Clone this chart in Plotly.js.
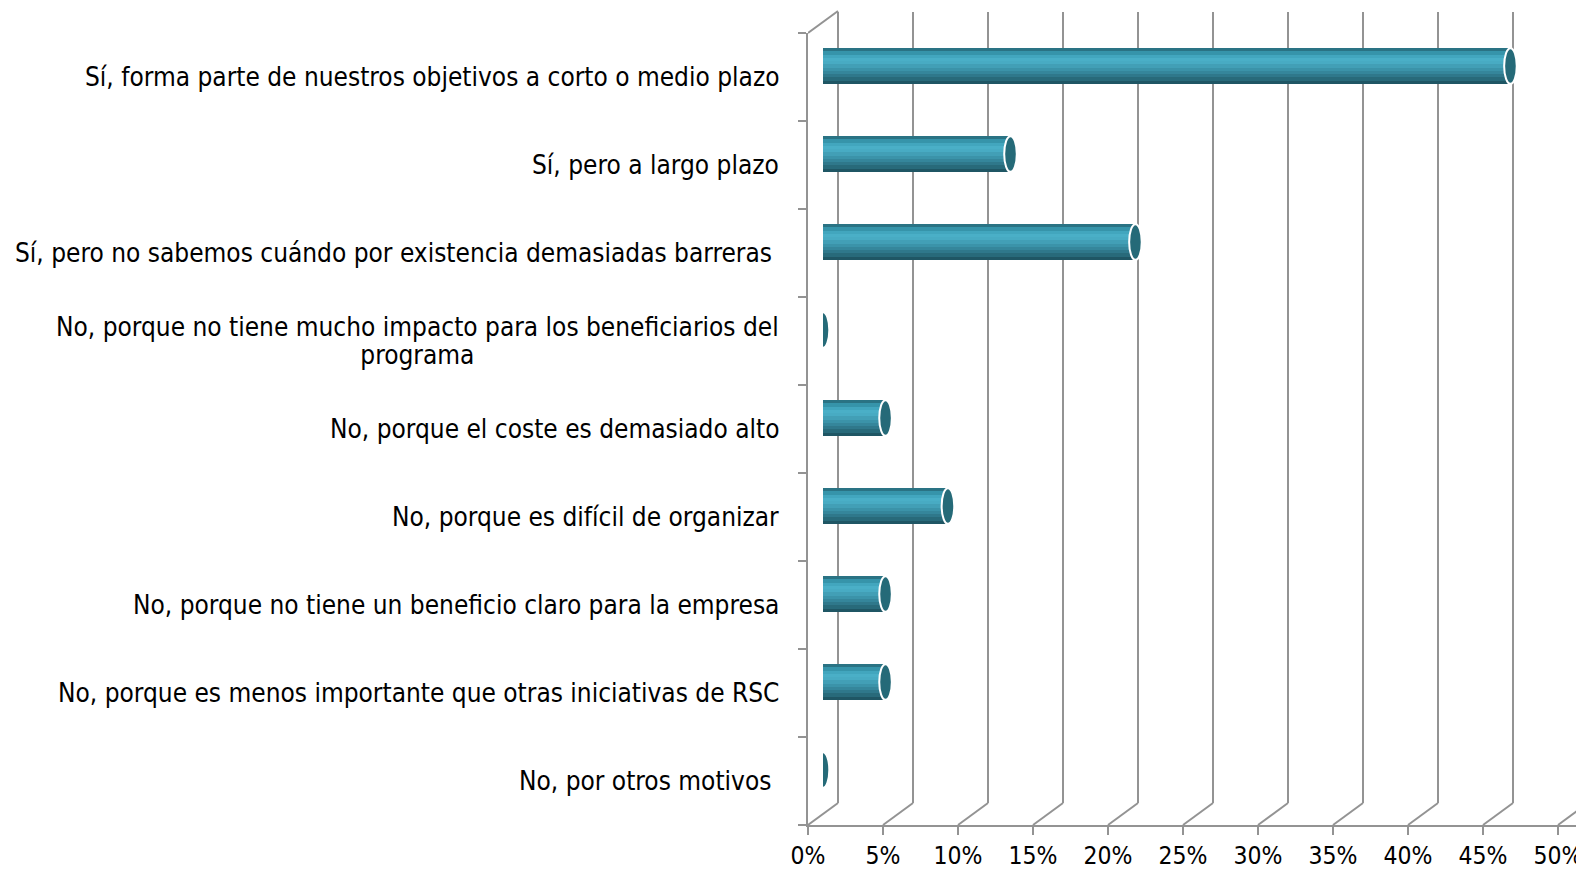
<!DOCTYPE html>
<html>
<head>
<meta charset="utf-8">
<script src="https://cdn.plot.ly/plotly-3.0.1.min.js"></script>
<style>
  html, body { margin: 0; padding: 0; background: #ffffff; }
  #chart { width: 1576px; height: 870px; }
</style>
</head>
<body>
<div id="chart"></div>
<script>
// ---------- data ----------
const categories = [
  "Sí, forma parte de nuestros objetivos a corto o medio plazo",
  "Sí, pero a largo plazo",
  "Sí, pero no sabemos cuándo por existencia demasiadas barreras ",
  "No, porque no tiene mucho impacto para los beneficiarios del<br>programa",
  "No, porque el coste es demasiado alto",
  "No, porque es difícil de organizar",
  "No, porque no tiene un beneficio claro para la empresa",
  "No, porque es menos importante que otras iniciativas de RSC",
  "No, por otros motivos "
];
const values = [45.83, 12.5, 20.83, 0, 4.17, 8.33, 4.17, 4.17, 0];
const tickValues = [0, 5, 10, 15, 20, 25, 30, 35, 40, 45, 50];
const tickLabels = ["0%", "5%", "10%", "15%", "20%", "25%", "30%", "35%", "40%", "45%", "50%"];

// ---------- geometry / style ----------
const W = 1576, H = 870;
const mL = 808, mR = 0, mT = 12, mB = 45;
const plotW = W - mL - mR, plotH = H - mT - mB;
const pxPerUnit = 15;          // px per 1%
const depthX = 30, depthY = 22; // 3D depth offset (px)
const frontH = 792;            // height of the front category axis
const barDepthX = depthX / 2, barDepthY = 11;
const barWidth = 0.405;
const gray = "#939393";
const FONT = "'DejaVu Sans Condensed', 'Liberation Sans Narrow', sans-serif";
const LABEL_SIZE = 26;
const bandColors = ["#2a7384", "#3694aa", "#42a6be", "#4aafc7", "#48abc3",
                    "#429fb6", "#3b93a9", "#35869b", "#2f788b", "#286a7a", "#1f5664"];
const bodyColor = "#3a97ad";
const capColor = "#256a78";

const N = categories.length;
const idx = categories.map((c, i) => i);

const traces = [];
// placeholder so the back-wall subplot is built
traces.push({ type: "scatter", mode: "none", x: [null], y: [null], xaxis: "x2", yaxis: "y2",
              hoverinfo: "skip", showlegend: false });
// gradient bands for cylinder bars
const nb = bandColors.length;
bandColors.forEach((col, k) => {
  traces.push({
    type: "bar", orientation: "h",
    x: values, y: idx, base: 0,
    xaxis: "x3", yaxis: "y3",
    width: barWidth / nb + 0.002,
    offset: -barWidth / 2 + k * barWidth / nb,
    marker: { color: col, line: { width: 0 } },
    hoverinfo: "skip", showlegend: false
  });
});

// shapes: floor diagonals, left wall top diagonal, cylinder caps
const shapes = [];
tickValues.forEach(t => {
  shapes.push({
    type: "line", xref: "x", yref: "paper", layer: "below",
    x0: t, x1: t + depthX / pxPerUnit, y0: 0, y1: depthY / plotH,
    line: { color: gray, width: 2 }
  });
});
shapes.push({
  type: "line", xref: "x", yref: "paper", layer: "below",
  x0: 0, x1: depthX / pxPerUnit, y0: frontH / plotH, y1: (frontH + depthY) / plotH,
  line: { color: gray, width: 2 }
});
values.forEach((v, i) => {
  if (v > 0) {
    shapes.push({
      type: "circle", xref: "x3", yref: "y3", layer: "below",
      x0: -0.36, x1: 0.36, y0: i - barWidth / 2 + 0.01, y1: i + barWidth / 2 - 0.01,
      fillcolor: bodyColor, line: { width: 0 }
    });
  }
  shapes.push({
    type: "circle", xref: "x3", yref: "y3", layer: "above",
    x0: v - 0.42, x1: v + 0.42, y0: i - barWidth / 2, y1: i + barWidth / 2,
    fillcolor: capColor, line: { color: "#ffffff", width: 2 }
  });
});

// category labels (centered multi-line, right edge at fixed position)
const labelRight = (781 - mL) / plotW;
const annotations = categories.map((c, i) => ({
  xref: "paper", yref: "y", x: labelRight, y: i,
  xanchor: "right", yanchor: "middle", align: "center",
  text: c.replace(/ $/, "\u00a0"),
  showarrow: false,
  font: { family: FONT, size: LABEL_SIZE, color: "#000000" }
}));

const backPad = 0.1; // keeps the 0% back gridline inside the subplot
const layout = {
  width: W, height: H,
  margin: { l: mL, r: mR, t: mT, b: mB, pad: 0 },
  paper_bgcolor: "#ffffff",
  plot_bgcolor: "rgba(0,0,0,0)",
  barmode: "overlay",
  bargap: 0,
  showlegend: false,
  xaxis: {
    domain: [0, 1], range: [0, plotW / pxPerUnit], anchor: "y",
    tickvals: tickValues, ticktext: tickLabels,
    ticks: "outside", ticklen: 8, tickwidth: 2, tickcolor: gray,
    showline: true, linecolor: gray, linewidth: 2,
    showgrid: false, zeroline: false, fixedrange: true,
    ticklabeloverflow: "allow",
    tickfont: { family: FONT, size: 24.5, color: "#000000" }
  },
  yaxis: {
    domain: [0, frontH / plotH], anchor: "x",
    type: "linear", range: [N - 0.5, -0.5],
    tickvals: idx.map(i => i - 0.5).concat([N - 0.5]),
    showticklabels: false,
    ticks: "outside", ticklen: 8, tickwidth: 2, tickcolor: gray,
    showline: true, linecolor: gray, linewidth: 2,
    showgrid: false, zeroline: false, fixedrange: true
  },
  // back wall
  xaxis2: {
    domain: [(depthX - backPad * pxPerUnit) / plotW, 1],
    range: [-backPad, (plotW - depthX) / pxPerUnit], anchor: "y2",
    tickvals: tickValues, showticklabels: false, ticks: "",
    showgrid: true, gridcolor: gray, gridwidth: 2,
    showline: false, zeroline: false, fixedrange: true
  },
  yaxis2: {
    domain: [depthY / plotH, 1], range: [0, 1], anchor: "x2",
    showticklabels: false, ticks: "", showline: false,
    showgrid: false, zeroline: false, fixedrange: true
  },
  // bars (mid depth)
  xaxis3: {
    domain: [barDepthX / plotW, 1], range: [0, (plotW - barDepthX) / pxPerUnit], anchor: "y3",
    visible: false, showgrid: false, zeroline: false, fixedrange: true
  },
  yaxis3: {
    domain: [barDepthY / plotH, (frontH + barDepthY) / plotH], anchor: "x3",
    type: "linear", range: [N - 0.5, -0.5],
    visible: false, showgrid: false, zeroline: false, fixedrange: true
  },
  shapes: shapes,
  annotations: annotations
};

Plotly.newPlot("chart", traces, layout, { staticPlot: true, displayModeBar: false }).then(gd => {
  // tighter line spacing for the two-line label, as in the original
  try {
    const lineEm = 1.08;
    gd.querySelectorAll("text.annotation-text").forEach(t => {
      const lines = t.querySelectorAll("tspan.line");
      if (lines.length > 1) {
        for (let k = 1; k < lines.length; k++) lines[k].setAttribute("dy", lineEm + "em");
        const shift = (1.3 - lineEm) * LABEL_SIZE * (lines.length - 1) / 2;
        const prev = t.getAttribute("transform") || "";
        t.setAttribute("transform", prev + " translate(0," + shift.toFixed(2) + ")");
      }
    });
  } catch (e) {}
});
</script>
</body>
</html>
